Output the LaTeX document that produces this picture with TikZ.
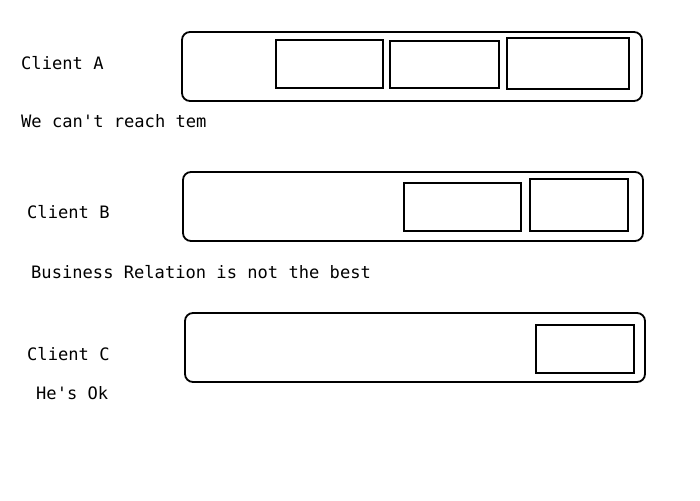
\documentclass[tikz,border=0pt]{standalone}
\usepackage{fontspec}
\setmonofont{DejaVu Sans Mono}
\begin{document}
\begin{tikzpicture}[x=1pt,y=-1pt,
  lane/.style={draw,line width=1.8pt,rounded corners=8pt},
  slot/.style={draw,line width=1.8pt},
  lbl/.style={anchor=base west,inner sep=0pt,font=\ttfamily\fontsize{17.1}{20}\selectfont}]
\useasboundingbox (0,0) rectangle (700,500);
% Client A
\draw[lane] (182,32) rectangle (642,101);
\draw[slot] (276,40) rectangle (383,88);
\draw[slot] (390,41) rectangle (499,88);
\draw[slot] (507,38) rectangle (629,89);
\node[lbl] (ca) at (21,70) {Client A};
\node[lbl] (na) at (21,127) {We can't reach tem};
% Client B
\draw[lane] (183,172) rectangle (643,241);
\draw[slot] (404,183) rectangle (521,231);
\draw[slot] (530,179) rectangle (628,231);
\node[lbl] (cb) at (27,218) {Client B};
\node[lbl] (nb) at (31,278) {Business Relation is not the best};
% Client C
\draw[lane] (185,313) rectangle (645,382);
\draw[slot] (536,325) rectangle (634,373);
\node[lbl] (cc) at (27,360) {Client C};
\node[lbl] (nc) at (36,399) {He's Ok};
\end{tikzpicture}
\end{document}
